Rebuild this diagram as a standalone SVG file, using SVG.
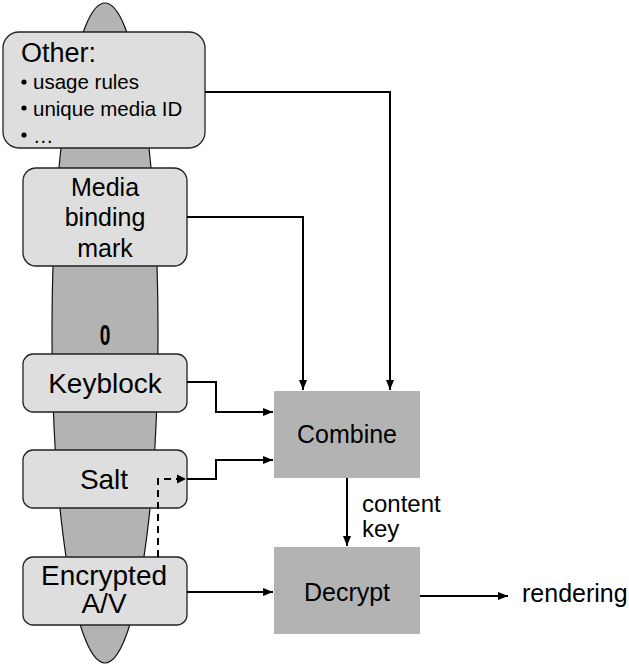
<svg xmlns="http://www.w3.org/2000/svg" width="629" height="667" viewBox="0 0 629 667">
<defs>
<style>
text{font-family:"Liberation Sans",Arial,sans-serif;fill:#000}
.box{fill:#dedede;stroke:#222;stroke-width:1.3}
.proc{fill:#b3b3b3}
.ln{fill:none;stroke:#000;stroke-width:2}
.dash{fill:none;stroke:#000;stroke-width:2;stroke-dasharray:7,5}
</style>
<marker id="ah" markerUnits="userSpaceOnUse" markerWidth="10" markerHeight="10" viewBox="0 0 10 10" refX="10" refY="5" orient="auto">
<path d="M0,1 L10,5 L0,9 Z" fill="#000"/>
</marker>
</defs>
<g id="disc">
<ellipse cx="105" cy="333" rx="53" ry="330" fill="#b3b3b3" stroke="#111" stroke-width="1.2"/>
<text x="105" y="345" font-size="29" font-weight="bold" text-anchor="middle" transform="translate(105 0) scale(0.66 1) translate(-105 0)">0</text>
</g>
<g id="other">
<rect class="box" x="3" y="32" width="202" height="116" rx="16"/>
<text x="21" y="62" font-size="27">Other:</text>
<circle cx="24" cy="82" r="2.6"/>
<text x="33" y="89" font-size="20.5">usage rules</text>
<circle cx="24" cy="108" r="2.6"/>
<text x="33" y="116" font-size="20.5">unique media ID</text>
<circle cx="24" cy="135" r="2.6"/>
<text x="33" y="143" font-size="20.5">…</text>
</g>
<g id="media">
<rect class="box" x="23" y="168" width="164" height="98" rx="13"/>
<text x="105" y="196" font-size="25" text-anchor="middle">Media</text>
<text x="105" y="226" font-size="25" text-anchor="middle">binding</text>
<text x="105" y="257" font-size="25" text-anchor="middle">mark</text>
</g>
<g id="keyblock">
<rect class="box" x="23" y="354" width="164" height="58" rx="10"/>
<text x="105" y="393" font-size="28" text-anchor="middle">Keyblock</text>
</g>
<g id="salt">
<rect class="box" x="23" y="450" width="164" height="58" rx="10"/>
<text x="104" y="489" font-size="28" text-anchor="middle">Salt</text>
</g>
<g id="encrypted">
<rect class="box" x="23" y="557" width="164" height="68" rx="10"/>
<text x="104" y="585" font-size="28" text-anchor="middle">Encrypted</text>
<text x="104" y="613" font-size="28" text-anchor="middle">A/V</text>
</g>
<g id="combine">
<rect class="proc" x="274" y="391" width="146" height="87"/>
<text x="347" y="443" font-size="25" text-anchor="middle">Combine</text>
</g>
<g id="decrypt">
<rect class="proc" x="274" y="547" width="146" height="87"/>
<text x="347" y="601" font-size="25" text-anchor="middle">Decrypt</text>
</g>
<g id="connectors">
<path class="ln" d="M205,92 H390 V390" marker-end="url(#ah)"/>
<path class="ln" d="M187,217 H303 V390" marker-end="url(#ah)"/>
<path class="ln" d="M187,382 H216 V412 H273" marker-end="url(#ah)"/>
<path class="ln" d="M187,479 H216 V460 H273" marker-end="url(#ah)"/>
<path class="dash" d="M158,557 V479 H178"/>
<path d="M177,474.5 L186,479 L177,483.5 Z" fill="#000"/>
<path class="ln" d="M347,478 V546" marker-end="url(#ah)"/>
<path class="ln" d="M187,592 H273" marker-end="url(#ah)"/>
<path class="ln" d="M420,596 H508" marker-end="url(#ah)"/>
</g>
<g id="labels">
<text x="362" y="512" font-size="24">content</text>
<text x="362" y="537" font-size="24">key</text>
<text x="522" y="602" font-size="25">rendering</text>
</g>
</svg>
